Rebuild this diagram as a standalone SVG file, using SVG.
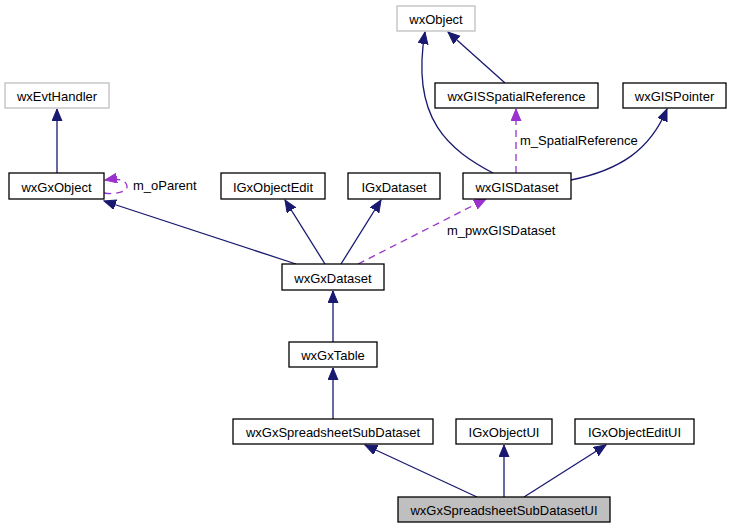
<svg xmlns="http://www.w3.org/2000/svg" width="732" height="528" viewBox="0 0 732 528">
<style>
.n rect{fill:#fff;stroke:#000;stroke-width:1.3}
.n.g rect{stroke:#bfbfbf}
.n.h rect{fill:#bfbfbf}
text{font-family:"Liberation Sans",Arial,sans-serif;font-size:13px;fill:#000}
.n text{text-anchor:middle}
.e{fill:none;stroke:#191970;stroke-width:1.3;marker-end:url(#a)}
.d{fill:none;stroke:#9a32cd;stroke-width:1.3;stroke-dasharray:7,5;marker-end:url(#p)}
</style>
<defs>
<marker id="a" markerUnits="userSpaceOnUse" markerWidth="14" markerHeight="12" refX="12" refY="5" orient="auto"><path d="M0,0 L12,5 L0,10 z" fill="#191970" stroke="#191970"/></marker>
<marker id="p" markerUnits="userSpaceOnUse" markerWidth="14" markerHeight="12" refX="12" refY="5" orient="auto"><path d="M0,0 L12,5 L0,10 z" fill="#9a32cd" stroke="#9a32cd"/></marker>
</defs>
<rect width="732" height="528" fill="#fff"/>
<g id="edges">
<path class="e" d="M57,173 L57,109"/>
<path class="d" d="M104,193 C118,195 128,191 127,186 C126,180 118,178 105,180"/>
<path class="e" d="M296,264 L104,201"/>
<path class="e" d="M325,264 L285,200"/>
<path class="e" d="M341,264 L381,200"/>
<path class="d" d="M358,264 L486,199"/>
<path class="e" d="M505,83 L448,32"/>
<path class="e" d="M493,173 C450,150 410,120 425,32"/>
<path class="d" d="M516,173 L516,109"/>
<path class="e" d="M571,180 C620,170 650,150 667,109"/>
<path class="e" d="M333,342 L333,291"/>
<path class="e" d="M333,419 L333,368"/>
<path class="e" d="M477,497 L365,445"/>
<path class="e" d="M504,497 L504,445"/>
<path class="e" d="M524,497 L606,445"/>
</g>
<g id="labels">
<text x="133" y="190">m_oParent</text>
<text x="520" y="145">m_SpatialReference</text>
<text x="447" y="235">m_pwxGISDataset</text>
</g>
<g id="wxObject" class="n g"><rect x="397" y="6" width="78" height="25"/><text x="436" y="24">wxObject</text></g>
<g id="wxGISSpatialReference" class="n"><rect x="435" y="83" width="163" height="25"/><text x="516.5" y="101">wxGISSpatialReference</text></g>
<g id="wxGISPointer" class="n"><rect x="623" y="83" width="103" height="25"/><text x="674.5" y="101">wxGISPointer</text></g>
<g id="wxEvtHandler" class="n g"><rect x="5" y="83" width="104" height="25"/><text x="57" y="101">wxEvtHandler</text></g>
<g id="wxGxObject" class="n"><rect x="9" y="173" width="95" height="26"/><text x="56.5" y="192">wxGxObject</text></g>
<g id="IGxObjectEdit" class="n"><rect x="221" y="173" width="104" height="26"/><text x="273" y="192">IGxObjectEdit</text></g>
<g id="IGxDataset" class="n"><rect x="348" y="173" width="92" height="26"/><text x="394" y="192">IGxDataset</text></g>
<g id="wxGISDataset" class="n"><rect x="463" y="173" width="108" height="26"/><text x="517" y="192">wxGISDataset</text></g>
<g id="wxGxDataset" class="n"><rect x="282" y="264" width="102" height="26"/><text x="333" y="283">wxGxDataset</text></g>
<g id="wxGxTable" class="n"><rect x="289" y="342" width="88" height="25"/><text x="333" y="360">wxGxTable</text></g>
<g id="wxGxSpreadsheetSubDataset" class="n"><rect x="233" y="419" width="200" height="25"/><text x="333" y="437">wxGxSpreadsheetSubDataset</text></g>
<g id="IGxObjectUI" class="n"><rect x="456" y="419" width="96" height="25"/><text x="504" y="437">IGxObjectUI</text></g>
<g id="IGxObjectEditUI" class="n"><rect x="575" y="419" width="119" height="25"/><text x="634.5" y="437">IGxObjectEditUI</text></g>
<g id="wxGxSpreadsheetSubDatasetUI" class="n h"><rect x="398" y="497" width="212" height="25"/><text x="504" y="515">wxGxSpreadsheetSubDatasetUI</text></g>
</svg>
